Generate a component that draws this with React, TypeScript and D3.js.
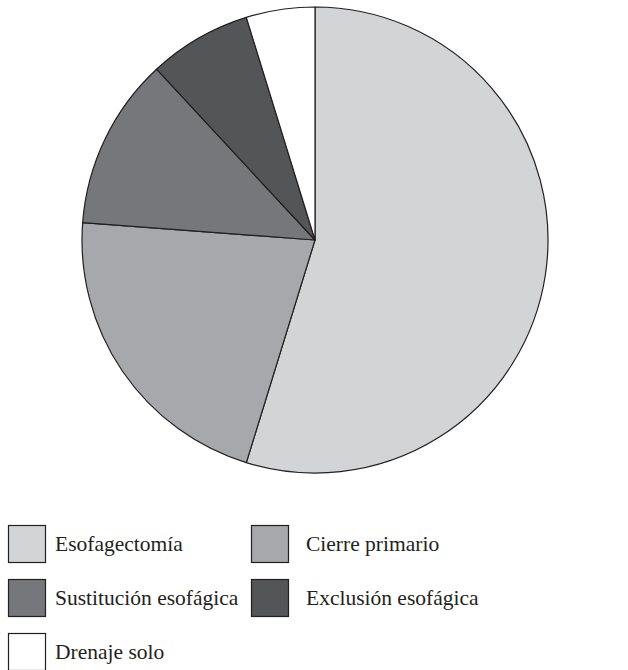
import React from "react";
import * as d3 from "d3";

const categories = ["Esofagectomía", "Cierre primario", "Sustitución esofágica", "Exclusión esofágica", "Drenaje solo"];
const values = [46, 18, 10, 6, 4];
const colors = ["#d3d4d6", "#a7a8ab", "#76777a", "#545557", "#ffffff"];

export default function App() {
  const W = 628, H = 670;
  const cx = 315, cy = 240, r = 233;
  const pie = d3.pie<number>().sort(null).value((d) => d)(values);
  const arc = d3.arc<d3.PieArcDatum<number>>().innerRadius(0).outerRadius(r);
  const stroke = "#231f20";
  const legendPos = [
    [8, 525, 55], [251, 525, 306], [8, 579, 55], [251, 579, 306], [8, 633, 55],
  ];
  return (
    <svg width={W} height={H} style={{ position: "absolute", left: 0, top: 0, background: "#fff" }}>
      <g transform={`translate(${cx},${cy})`}>
        {pie.map((p, i) => (
          <path key={i} d={arc(p) || ""} fill={colors[i]} stroke={stroke} strokeWidth={1.2} strokeLinejoin="round" />
        ))}
      </g>
      {categories.map((c, i) => {
        const [x, y, tx] = legendPos[i];
        return (
          <g key={c}>
            <rect x={x + 0.5} y={y + 0.5} width={37} height={37} fill={colors[i]} stroke={stroke} strokeWidth={1.2} />
            <text x={tx} y={y + 26} fontFamily="'Liberation Serif', serif" fontSize={21.5} fill={stroke}>{c}</text>
          </g>
        );
      })}
    </svg>
  );
}
